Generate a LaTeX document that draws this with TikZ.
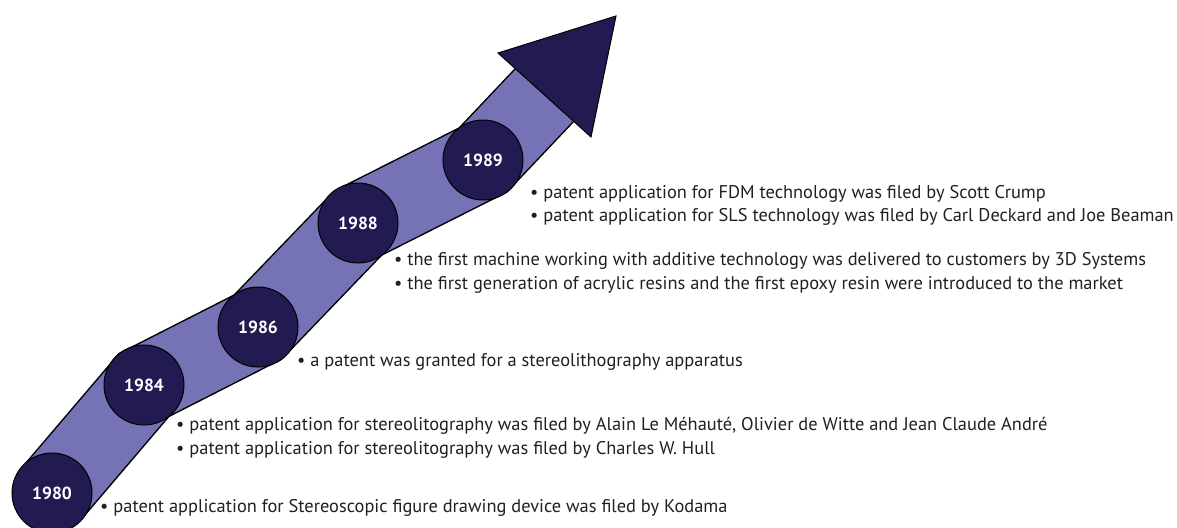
\documentclass[tikz,border=0pt]{standalone}
\usepackage{fontspec}
\setmainfont{PT Sans}
\definecolor{bandc}{RGB}{117,115,181}
\definecolor{navy}{RGB}{34,27,82}
\definecolor{txt}{RGB}{35,31,32}
\begin{document}
\begin{tikzpicture}[x=1pt,y=-1pt,
  year/.style={circle,fill=navy,draw=black,line width=1pt,minimum size=80pt,inner sep=0pt,text=white,font=\fontsize{17.5}{20}\selectfont\bfseries},
  note/.style={anchor=west,align=left,text=txt,font=\fontsize{18.4}{23.5}\selectfont,inner sep=0pt}]
\useasboundingbox (0,0) rectangle (1177,527);
\clip (0,0) rectangle (1177,527);
\coordinate (base) at (544.5,95);
\coordinate (h1) at (498,53);
\coordinate (tip) at (616,16);
\coordinate (h2) at (591,137);
\coordinate (p80) at (52,493);
\coordinate (p84) at (144,385);
\coordinate (p86) at (258,327);
\coordinate (p88) at (358,223);
\coordinate (p89) at (483,160);
\draw[line width=80pt,black,line join=miter] (p80) -- (p84) -- (p86) -- (p88) -- (p89) -- (base);
\draw[line width=77pt,bandc,line join=miter] (p80) -- (p84) -- (p86) -- (p88) -- (p89) -- (base);
\filldraw[fill=navy,draw=black,line width=1pt,line join=miter] (h1) -- (tip) -- (h2) -- cycle;
\node[year] (y80) at (p80) {1980};
\node[year] (y84) at (p84) {1984};
\node[year] (y86) at (p86) {1986};
\node[year] (y88) at (p88) {1988};
\node[year] (y89) at (p89) {1989};
\node[note] (t89) at (530,205.5) {• patent application for FDM technology was filed by Scott Crump\\• patent application for SLS technology was filed by Carl Deckard and Joe Beaman};
\node[note] (t88) at (394,273) {• the first machine working with additive technology was delivered to customers by 3D Systems\\• the first generation of acrylic resins and the first epoxy resin were introduced to the market};
\node[note] (t86) at (297,362) {• a patent was granted for a stereolithography apparatus};
\node[note] (t84) at (176,438) {• patent application for stereolitography was filed by Alain Le Méhauté, Olivier de Witte and Jean Claude André\\• patent application for stereolitography was filed by Charles W. Hull};
\node[note] (t80) at (100,508) {• patent application for Stereoscopic figure drawing device was filed by Kodama};
\end{tikzpicture}
\end{document}
